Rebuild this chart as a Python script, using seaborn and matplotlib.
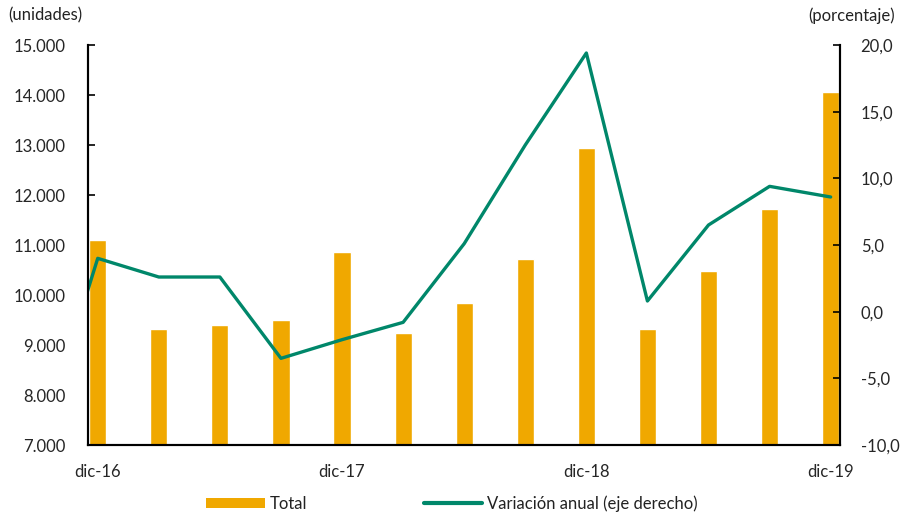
import pandas as pd
import matplotlib.pyplot as plt
import matplotlib.ticker as mticker
from matplotlib.lines import Line2D
from matplotlib.patches import Patch
import seaborn as sns

# trimestres dic-16 .. dic-19
periodos = ['dic-16', 'mar-17', 'jun-17', 'sep-17', 'dic-17', 'mar-18', 'jun-18',
            'sep-18', 'dic-18', 'mar-19', 'jun-19', 'sep-19', 'dic-19']
total = [11100, 9320, 9400, 9500, 10870, 9240, 9840, 10720, 12940, 9320, 10480, 11720, 14060]
# variacion anual, incluye sep-16 (fuera del rango visible)
variacion = [-10.7, 4.0, 2.6, 2.6, -3.5, -2.1, -0.8, 5.1, 12.5, 19.4, 0.8, 6.5, 9.4, 8.6]
ticks_lbl = ['dic-16', 'dic-17', 'dic-18', 'dic-19']

naranja = '#F0A800'
verde = '#00876A'

sns.set_style('white')
plt.rcParams['font.family'] = ['Lato', 'DejaVu Sans']
plt.rcParams['text.color'] = '#222222'

df = pd.DataFrame({'periodo': periodos, 'total': total})
dl = pd.DataFrame({'x': list(range(-1, len(periodos))), 'var': variacion})

fig = plt.figure(figsize=(9.04, 5.15), dpi=100)
ax = fig.add_axes([0.0973, 0.1359, 0.929 - 0.0973, 0.9126 - 0.1359])
sns.barplot(data=df, x='periodo', y='total', order=periodos, color=naranja,
            saturation=1, width=0.28, ax=ax)
ax.set_ylim(7000, 15000)
ax.set_yticks(range(7000, 15001, 1000))
ax.yaxis.set_major_formatter(mticker.FuncFormatter(lambda v, p: f'{int(v):,}'.replace(',', '.')))
ax.set_xlabel('')
ax.set_ylabel('')

ax2 = ax.twinx()
sns.lineplot(data=dl, x='x', y='var', color=verde, linewidth=2.4, ax=ax2)
ax2.set_ylim(-10, 20)
ax2.set_yticks(range(-10, 21, 5))
ax2.yaxis.set_major_formatter(mticker.FuncFormatter(lambda v, p: f'{v:.1f}'.replace('.', ',')))
ax2.set_ylabel('')
ax2.set_xlabel('')

ax.set_xlim(-0.15, 12.15)
ax.set_xticks([periodos.index(t) for t in ticks_lbl])
ax.set_xticklabels(ticks_lbl)
ax.set_xticks([periodos.index(t) - 0.16 for t in ticks_lbl], minor=True)
ax.tick_params(axis='x', which='major', length=0, pad=14, labelsize=12)
ax.tick_params(axis='x', which='minor', direction='in', length=4, width=1.2, color='black')
ax.tick_params(axis='y', direction='in', length=5, width=1.2, color='black', labelsize=12, pad=16)
ax2.tick_params(axis='y', direction='in', length=5, width=1.2, color='black', labelsize=12, pad=15)

for a in (ax, ax2):
    a.spines['top'].set_visible(False)
    for s in ('left', 'right', 'bottom'):
        a.spines[s].set_color('black')
        a.spines[s].set_linewidth(1.5)
ax.yaxis.tick_left()
ax2.yaxis.tick_right()

fig.text(0.009, 0.97, '(unidades)', fontsize=12, va='center', ha='left')
fig.text(0.99, 0.97, '(porcentaje)', fontsize=12, va='center', ha='right')

handles = [Patch(facecolor=naranja, edgecolor='none'),
           Line2D([0], [0], color=verde, linewidth=3)]
fig.legend(handles, ['Total', 'Variación anual (eje derecho)'], loc='center',
           bbox_to_anchor=(0.5, 0.022), ncol=2, frameon=False, fontsize=12,
           handlelength=3.5, handleheight=0.6, columnspacing=7, handletextpad=0.3)

fig.savefig('out.png', dpi=100)
